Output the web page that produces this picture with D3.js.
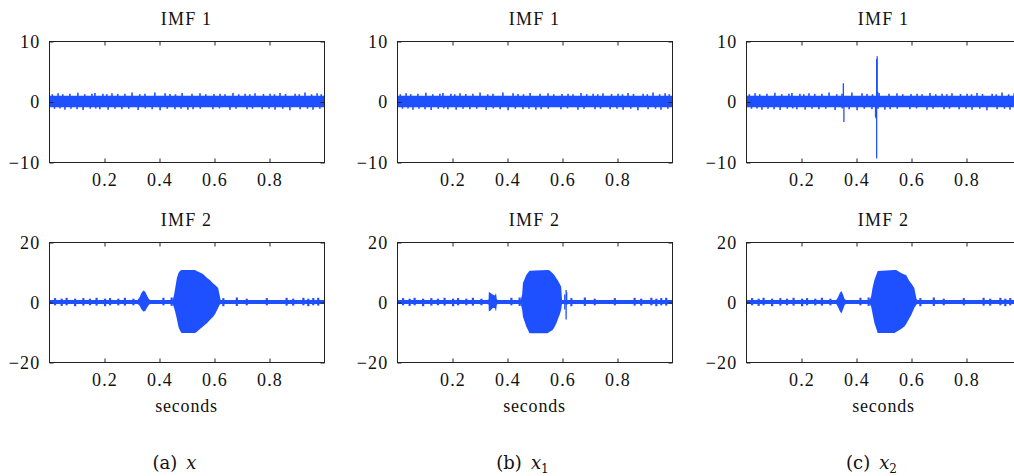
<!DOCTYPE html>
<html>
<head>
<meta charset="utf-8">
<script src="https://cdn.jsdelivr.net/npm/d3@7"></script>
<style>
  body { margin: 0; background: #fff; }
  svg text { font-family: "Liberation Serif", "DejaVu Serif", "Noto Serif", serif; fill: #111; }
  .cap { font-family: "DejaVu Serif", "Liberation Serif", serif; }
</style>
</head>
<body>
<svg id="fig" width="1014" height="476"></svg>
<script>
// ---- axes ----
const timeTicks = [0.2, 0.4, 0.6, 0.8];
const imf1Ticks = [-10, 0, 10];
const imf2Ticks = [-20, 0, 20];
const imfTitles = ["IMF 1", "IMF 2"];
const xAxisLabel = "seconds";

// ---- sub-figure captions ----
const captionTags = ["(a)", "(b)", "(c)"];
const captionSymbols = ["x", "x", "x"];
const captionSubscripts = ["", "1", "2"];

// ---- IMF 1: half-width of the dense noise band, and the excursions beyond it ----
const imf1Band = 0.95;
const imf1Jitter = [
  [0.012, 1.2], [0.033, 1.35], [0.050, 1.2], [0.076, 1.3], [0.105, 1.45], [0.130, 1.2],
  [0.156, 1.3], [0.167, 1.4], [0.196, 1.3], [0.210, 1.2], [0.229, 1.35], [0.250, 1.25],
  [0.276, 1.3], [0.302, 1.5], [0.330, 1.2], [0.349, 1.3], [0.385, 1.5], [0.422, 1.35],
  [0.440, 1.25], [0.460, 1.2], [0.484, 1.4], [0.520, 1.3], [0.549, 1.35], [0.570, 1.2],
  [0.600, 1.25], [0.622, 1.3], [0.640, 1.2], [0.669, 1.4], [0.690, 1.2], [0.713, 1.3],
  [0.730, 1.2], [0.749, 1.35], [0.780, 1.25], [0.804, 1.3], [0.820, 1.2], [0.840, 1.4],
  [0.860, 1.25], [0.895, 1.3], [0.910, 1.2], [0.931, 1.5], [0.955, 1.2], [0.975, 1.35],
  [0.990, 1.2],
  [0.020, -1.2], [0.040, -1.15], [0.058, -1.35], [0.080, -1.2], [0.102, -1.3], [0.124, -1.4],
  [0.150, -1.2], [0.170, -1.15], [0.185, -1.3], [0.215, -1.35], [0.240, -1.2], [0.265, -1.3],
  [0.290, -1.2], [0.324, -1.4], [0.350, -1.15], [0.375, -1.3], [0.404, -1.45], [0.430, -1.2],
  [0.458, -1.3], [0.480, -1.2], [0.505, -1.35], [0.524, -1.3], [0.550, -1.2], [0.596, -1.3],
  [0.620, -1.15], [0.658, -1.35], [0.680, -1.2], [0.720, -1.3], [0.740, -1.2], [0.775, -1.3],
  [0.800, -1.2], [0.822, -1.35], [0.850, -1.2], [0.876, -1.45], [0.913, -1.3], [0.940, -1.2],
  [0.960, -1.35], [0.985, -1.2]
];
// transients in IMF 1 of x2: [t, high, low]
const imf1SpikesC = [
  [0.354, 3.0, -0.4], [0.356, 0.4, -3.4],
  [0.471, 0.3, -2.6], [0.473, 0.8, -2.8], [0.475, 7.0, -9.4], [0.477, 7.5, -0.3], [0.479, 1.6, -0.6]
];

// ---- IMF 2: baseline band, bumps, and the envelopes of the bursts ----
const imf2Band = 0.7;
const imf2Jitter = [
  [0.022, 1.3, -1.1], [0.046, 1.1, -1.3], [0.064, 1.4, -1.1], [0.095, 1.1, -1.4],
  [0.125, 1.3, -1.2], [0.149, 1.1, -1.1], [0.173, 1.4, -1.2], [0.204, 1.1, -1.4],
  [0.222, 1.3, -1.1], [0.252, 1.1, -1.1], [0.276, 1.4, -1.2], [0.307, 1.1, -1.1],
  [0.416, 1.4, -1.1], [0.446, 1.5, -1.3], [0.634, 1.3, -1.4], [0.683, 1.5, -1.3],
  [0.719, 1.1, -1.1], [0.792, 1.3, -1.1], [0.864, 1.4, -1.2], [0.888, 1.1, -1.2],
  [0.925, 1.4, -1.1], [0.943, 1.1, -1.4], [0.961, 1.3, -1.1], [0.979, 1.4, -1.2]
];
// envelopes: [t, upper, lower]
const imf2BurstA = [
  [0.322, 0.7, -0.7], [0.329, 1.5, -1.2], [0.336, 3.0, -2.4], [0.343, 3.8, -3.2],
  [0.350, 3.4, -3.0], [0.357, 2.0, -1.8], [0.364, 0.9, -0.8], [0.369, 0.7, -0.7],
  [0.450, 0.7, -0.7], [0.455, 2.5, -2.0], [0.459, 4.7, -3.3], [0.465, 8.0, -5.7],
  [0.471, 9.7, -8.3], [0.476, 10.3, -9.5], [0.482, 10.7, -10.3], [0.531, 10.7, -10.3],
  [0.537, 10.3, -10.0], [0.549, 9.8, -9.0], [0.560, 9.3, -8.2], [0.575, 8.0, -7.0],
  [0.585, 7.3, -6.0], [0.597, 6.2, -4.9], [0.604, 5.7, -4.0], [0.615, 4.7, -2.0],
  [0.620, 2.5, -1.0], [0.624, 0.7, -0.7]
];
const imf2BurstB = [
  [0.328, 0.7, -0.7], [0.333, 0.8, -0.8], [0.334, 3.4, -3.2], [0.340, 3.0, -2.8],
  [0.348, 2.5, -2.0], [0.356, 2.2, -2.0], [0.360, 3.0, -3.2], [0.363, 0.8, -0.8],
  [0.368, 0.7, -0.7],
  [0.450, 0.7, -0.7], [0.455, 2.5, -2.5], [0.458, 6.3, -4.9], [0.470, 9.0, -8.2],
  [0.482, 10.4, -10.4], [0.547, 10.7, -10.4], [0.554, 10.6, -10.0], [0.566, 9.6, -9.3],
  [0.572, 9.0, -8.5], [0.580, 7.8, -7.0], [0.584, 7.3, -6.0], [0.593, 5.8, -3.8],
  [0.597, 5.1, -2.5], [0.600, 0.7, -0.7]
];
const imf2SpikesB = [[0.610, 2.5, -2.5], [0.615, 4.0, -5.8], [0.617, 3.2, -1.0]];
const imf2BurstC = [
  [0.328, 0.7, -0.7], [0.334, 1.5, -1.6], [0.341, 3.0, -3.0], [0.347, 3.7, -3.8],
  [0.353, 2.4, -2.4], [0.359, 0.9, -0.9], [0.364, 0.7, -0.7],
  [0.450, 0.7, -0.7], [0.455, 1.8, -1.5], [0.460, 4.7, -3.8], [0.467, 7.3, -7.0],
  [0.479, 10.3, -10.3], [0.540, 10.7, -10.3], [0.546, 10.7, -10.0], [0.558, 10.0, -9.3],
  [0.564, 9.7, -9.0], [0.576, 9.2, -8.2], [0.582, 9.0, -7.4], [0.594, 7.0, -5.4],
  [0.600, 6.3, -4.5], [0.612, 4.7, -2.0], [0.620, 1.0, -0.8], [0.624, 0.7, -0.7]
];

// ---- drawing ----
const signalColor = "#1e50ff";
const axisColor = "#222";
const serifStack = '"Liberation Serif", "DejaVu Serif", "Noto Serif", serif';
const labelSize = "18px";
const plotW = 275;
const colX = [49, 397, 746];
const rows = [
  { top: 41, h: 121, domain: [-10, 10], ticks: imf1Ticks, title: imfTitles[0] },
  { top: 242, h: 120, domain: [-20, 20], ticks: imf2Ticks, title: imfTitles[1] }
];

const columns = [
  { imf1Spikes: [], burst: imf2BurstA, imf2Spikes: [] },
  { imf1Spikes: [], burst: imf2BurstB, imf2Spikes: imf2SpikesB },
  { imf1Spikes: imf1SpikesC, burst: imf2BurstC, imf2Spikes: [] }
];

const svg = d3.select("#fig");
const intFmt = d3.format("d");

columns.forEach((col, ci) => {
  rows.forEach((row, ri) => {
    const g = svg.append("g").attr("transform", `translate(${colX[ci]},${row.top})`);
    const x = d3.scaleLinear().domain([0, 1]).range([0, plotW]);
    const y = d3.scaleLinear().domain(row.domain).range([row.h, 0]);

    const clipId = `clip-${ci}-${ri}`;
    g.append("clipPath").attr("id", clipId)
      .append("rect").attr("x", 0).attr("y", 0).attr("width", plotW).attr("height", row.h);
    const plot = g.append("g").attr("clip-path", `url(#${clipId})`);

    const band = ri === 0 ? imf1Band : imf2Band;
    const area = d3.area().x(d => x(d[0])).y0(d => y(d[2])).y1(d => y(d[1]));

    // dense noise band around zero
    plot.append("path")
      .attr("d", area([[0, band, -band], [1, band, -band]]))
      .attr("fill", signalColor);

    // short excursions beyond the band
    const jitter = ri === 0
      ? imf1Jitter.map(d => d[1] > 0 ? [d[0], d[1], 0] : [d[0], 0, d[1]])
      : imf2Jitter;
    plot.selectAll("line.jit").data(jitter).join("line")
      .attr("class", "jit")
      .attr("x1", d => x(d[0])).attr("x2", d => x(d[0]))
      .attr("y1", d => y(d[1])).attr("y2", d => y(d[2]))
      .attr("stroke", signalColor).attr("stroke-width", ri === 0 ? 1.6 : 2.2);

    if (ri === 1) {
      plot.append("path").attr("d", area(col.burst)).attr("fill", signalColor);
    }
    const spikes = ri === 0 ? col.imf1Spikes : col.imf2Spikes;
    plot.selectAll("line.spk").data(spikes).join("line")
      .attr("class", "spk")
      .attr("x1", d => x(d[0])).attr("x2", d => x(d[0]))
      .attr("y1", d => y(d[1])).attr("y2", d => y(d[2]))
      .attr("stroke", signalColor).attr("stroke-width", 1.3);

    // frame with inward ticks
    g.append("rect")
      .attr("x", 0.5).attr("y", 0.5).attr("width", plotW).attr("height", row.h)
      .attr("fill", "none").attr("stroke", axisColor).attr("stroke-width", 1);

    const styleAxis = sel => {
      sel.attr("font-family", serifStack).attr("font-size", 18);
      sel.select(".domain").remove();
      sel.selectAll(".tick line").attr("stroke", axisColor);
      sel.selectAll(".tick text")
        .style("font-family", serifStack)
        .style("font-size", labelSize).style("letter-spacing", "1.2px").attr("fill", "#111");
    };

    g.append("g").attr("transform", `translate(0.5,${row.h + 0.5})`)
      .call(d3.axisBottom(x).tickValues(timeTicks).tickSizeInner(-4).tickSizeOuter(0)
        .tickPadding(11).tickFormat(d3.format(".1f")))
      .call(styleAxis);
    g.append("g").attr("transform", `translate(0.5,0.5)`)
      .call(d3.axisTop(x).tickValues(timeTicks).tickSizeInner(-4).tickSizeOuter(0).tickFormat(""))
      .call(styleAxis);
    g.append("g").attr("transform", `translate(0.5,0.5)`)
      .call(d3.axisLeft(y).tickValues(row.ticks).tickSizeInner(-4).tickSizeOuter(0)
        .tickPadding(9).tickFormat(intFmt))
      .call(styleAxis);
    g.append("g").attr("transform", `translate(${plotW + 0.5},0.5)`)
      .call(d3.axisRight(y).tickValues(row.ticks).tickSizeInner(-4).tickSizeOuter(0).tickFormat(""))
      .call(styleAxis);

    // panel title
    g.append("text")
      .attr("x", plotW / 2).attr("y", -16)
      .attr("text-anchor", "middle")
      .style("font-family", serifStack)
      .style("font-size", labelSize).style("letter-spacing", "1.2px")
      .text(row.title);

    if (ri === 1) {
      g.append("text")
        .attr("x", plotW / 2).attr("y", row.h + 50)
        .attr("text-anchor", "middle")
        .style("font-family", serifStack)
        .style("font-size", labelSize).style("letter-spacing", "0.8px")
        .text(xAxisLabel);
    }
  });

  // caption below each column
  const cap = svg.append("text")
    .attr("class", "cap")
    .attr("x", colX[ci] + plotW / 2 - 12).attr("y", 469)
    .attr("text-anchor", "middle")
    .style("font-size", "18px");
  cap.append("tspan").text(captionTags[ci] + "\u2002");
  cap.append("tspan").style("font-style", "italic").text(captionSymbols[ci]);
  if (captionSubscripts[ci]) {
    cap.append("tspan").attr("dy", 4).style("font-size", "12px").text(captionSubscripts[ci]);
  }
});
</script>
</body>
</html>
